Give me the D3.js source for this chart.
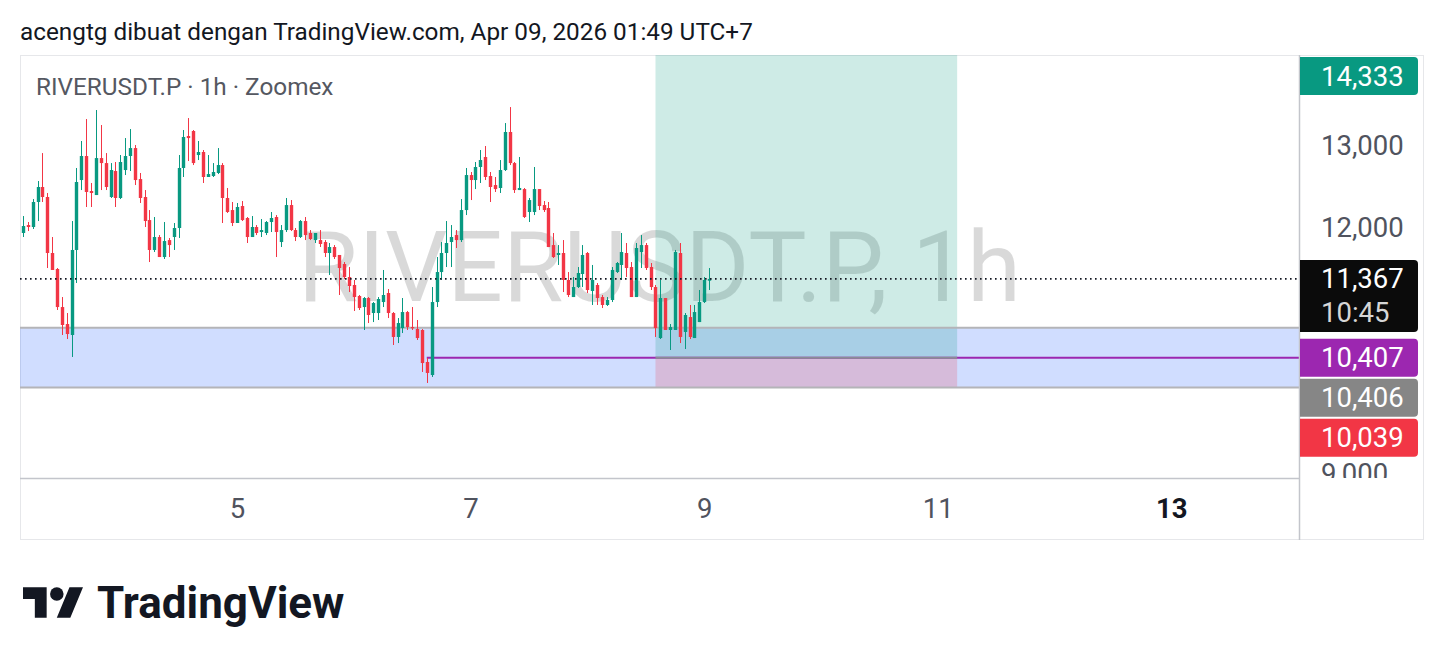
<!DOCTYPE html>
<html><head><meta charset="utf-8">
<script src="https://cdn.jsdelivr.net/npm/d3@7"></script>
<style>
body{margin:0;background:#fff;}
svg{display:block;font-family:Roboto,"Noto Sans",sans-serif;}
</style></head>
<body><svg id="c" width="1444" height="663"></svg>
<script>
// ---------------- data ----------------
const headerText = "acengtg dibuat dengan TradingView.com, Apr 09, 2026 01:49 UTC+7";
const legendText = "RIVERUSDT.P · 1h · Zoomex";
const watermarkText = "RIVERUSDT.P, 1h";
const firstBar = "2026-04-03T04:00:00Z"; // hourly bars (local UTC+7 shown as UTC)
const opens = [11927,12024,12000,12305,12488,12366,11683,11488,11024,10817,10683,11720,12573,12866,12439,12390,12841,12780,12366,12683,
12354,12695,12866,12963,12585,12366,12085,11720,11878,11634,11841,11878,11988,12720,13110,13171,12878,12915,12610,12622,
12659,12756,12354,12207,12049,12256,12110,11878,12000,11939,11927,12061,12122,11817,11963,12268,11963,11878,12073,11927,
11841,11841,11817,11683,11756,11659,11549,11390,11293,11159,11024,11134,10951,10951,11085,11195,10951,10659,10768,10963,
10780,10756,10744,10354,10195,11085,11451,11683,11817,11902,11841,12207,12634,12573,12732,12854,12622,12512,12476,12695,
13159,12780,12451,12463,12183,12183,12463,12268,12232,11780,11659,11683,11354,11146,11268,11427,11683,11220,11293,11146,
11049,11110,11451,11537,11683,11512,11146,11695,11780,11512,11268,10646,11134,10744,10744,11683,10720,10902,10646,10841,
11085,11345];
const highs = [12134,12061,12341,12561,12902,12415,11878,11500,11146,10951,12073,12720,13049,13317,12537,13427,13244,12902,12780,12793,
12878,13085,13195,13000,12659,12451,12207,12122,11902,12061,11866,12049,12878,13183,13329,13183,13049,12939,12878,12780,
12963,12780,12476,12305,12293,12317,12122,12134,12024,12098,12073,12183,12146,12024,12354,12329,11988,12085,12122,11963,
11927,11963,11841,11805,11780,11659,11573,11512,11354,11171,11146,11146,11085,11146,11476,11244,10963,10890,11134,10976,
11024,10866,10756,10402,11268,11634,11817,12073,12024,11963,12341,12720,12671,12793,12939,12988,12671,12610,12817,13268,
13463,12793,12854,12476,12354,12732,12463,12317,12305,11927,11780,11841,11451,11390,11512,11780,11695,11537,11317,11171,
11146,11512,11573,11927,11805,11573,11805,11902,11805,11561,11293,11354,11134,10817,11720,11805,10951,11049,11049,11232,
11390,11500];
const lows = [11878,11951,11976,12073,12305,11500,11476,10988,10683,10634,10415,11317,12451,12244,12244,12390,12451,12451,12354,12244,
12341,12634,12683,12512,12293,12000,11573,11695,11634,11610,11634,11720,11866,12610,12805,12756,12817,12537,12610,12610,
12646,12049,12171,12012,12049,12073,11805,11878,11902,11878,11902,11939,11634,11756,11939,11951,11829,11866,11841,11841,
11805,11756,11634,11415,11610,11171,11366,11207,10976,10988,10744,10829,10841,10866,11024,10890,10561,10585,10707,10744,
10744,10622,10232,10098,10171,11024,11354,11512,11512,11744,11817,12146,12329,12463,12537,12573,12305,12427,12415,12683,
12756,12415,12451,12110,12061,12146,12207,12183,11756,11622,11537,11207,11146,11146,11256,11268,11195,11049,11049,11012,
11037,11085,11439,11354,11390,11146,11146,11500,11476,11232,10659,10634,10744,10500,10744,10585,10512,10634,10646,10841,
11073,11232];
const closes = [12012,12000,12305,12488,12366,11683,11476,11024,10805,10695,11720,12549,12866,12427,12415,12841,12780,12488,12695,12354,
12793,12866,12963,12573,12354,12073,11720,11878,11634,11829,11780,11988,12720,13098,13085,12780,12915,12610,12646,12671,
12756,12354,12183,12049,12244,12085,11878,12000,11927,11963,12061,12110,11939,11963,12268,11963,11878,12073,11902,11854,
11927,11793,11683,11756,11634,11500,11390,11280,11146,11012,11134,10927,11073,11122,11171,10951,10659,10829,10963,10780,
10768,10646,10341,10220,11085,11451,11683,11805,11878,11841,12207,12634,12573,12732,12817,12610,12488,12463,12695,13159,
12780,12451,12476,12122,12329,12463,12256,12207,11756,11634,11683,11354,11171,11268,11439,11659,11232,11354,11134,11049,
11110,11476,11561,11695,11500,11146,11744,11780,11500,11268,10768,11134,10744,10780,11695,10659,10927,10659,10963,11085,
11354,11367];

// drawings
const zoneTop = 10770, zoneBottom = 10042;            // support rectangle
const entryPrice = 10407, targetPrice = 14333, stopPrice = 10039;
const positionStart = "2026-04-08T14:00:00Z", positionEnd = "2026-04-11T04:00:00Z";
const rayStart = "2026-04-06T15:00:00Z";
const lastPrice = 11367, countdown = "10:45";
const markerKeys = ["target","last","entry","zone","stop"];
const markerValues = [14333, 11367, 10407, 10406, 10039];
const priceTicks = [9000,10000,11000,12000,13000,14000];
const dayTicks = ["2026-04-05","2026-04-07","2026-04-09","2026-04-11","2026-04-13"];
const boldDay = "2026-04-13";
const viewStart = "2026-04-03T03:24:00Z", viewEnd = "2026-04-14T02:15:00Z";
const priceMin = 8939, priceMax = 14098;

// ---------------- styles ----------------
const UP = "#089981", DOWN = "#F23645";
const markerStyle = {
  target:{fill:"#089981", text:"#fff"},
  last:{fill:"#0b0b0b", text:"#fff"},
  entry:{fill:"#9c27b0", text:"#fff"},
  zone:{fill:"#868686", text:"#fff"},
  stop:{fill:"#f23645", text:"#fff"}
};
const AXIS_FS = 27.5;

// ---------------- layout ----------------
const svg = d3.select("#c");
const P = {l:20, r:1299, t:55, b:478, axisR:1424, axisB:540};

const x = d3.scaleUtc().domain([new Date(viewStart), new Date(viewEnd)]).range([P.l, P.r]);
const y = d3.scaleLinear().domain([priceMin, priceMax]).range([P.b, P.t]);

const t0 = new Date(firstBar).getTime();
const bars = opens.map((o,i)=>({t:new Date(t0 + i*3600e3), o, h:highs[i], l:lows[i], c:closes[i]}));

svg.append("rect").attr("width",1444).attr("height",663).attr("fill","#fff");

// header
svg.append("text").attr("x",20).attr("y",40).attr("font-size",24.3).attr("fill","#131722").text(headerText);

// frame
svg.append("rect").attr("x",P.l+0.5).attr("y",P.t+0.5).attr("width",P.axisR-P.l-1).attr("height",P.axisB-P.t-1)
  .attr("fill","none").attr("stroke","#e6e7ea");

const defs = svg.append("defs");
defs.append("clipPath").attr("id","plotclip").append("rect")
  .attr("x",P.l).attr("y",P.t).attr("width",P.r-P.l).attr("height",P.b-P.t);
defs.append("clipPath").attr("id","axisclip").append("rect")
  .attr("x",P.r).attr("y",P.t).attr("width",P.axisR-P.r).attr("height",P.b-P.t);

const plot = svg.append("g").attr("clip-path","url(#plotclip)");

// watermark
plot.append("text").attr("x",(P.l+P.r)/2).attr("y",(P.t+P.b)/2+1).attr("text-anchor","middle")
  .attr("dominant-baseline","central").attr("font-size",98).attr("fill","rgba(0,0,0,0.15)").text(watermarkText);

// support zone
plot.append("rect").attr("x",P.l).attr("width",P.r-P.l)
  .attr("y",y(zoneTop)).attr("height",y(zoneBottom)-y(zoneTop)).attr("fill","rgba(41,98,255,0.22)");

// long position
const px0 = x(new Date(positionStart)), px1 = x(new Date(positionEnd));
plot.append("rect").attr("x",px0).attr("width",px1-px0).attr("y",y(targetPrice)).attr("height",y(entryPrice)-y(targetPrice))
  .attr("fill","rgba(8,153,129,0.2)");
plot.append("rect").attr("x",px0).attr("width",px1-px0).attr("y",y(entryPrice)).attr("height",y(stopPrice)-y(entryPrice))
  .attr("fill","rgba(242,54,69,0.2)");

// zone borders
[zoneTop, zoneBottom].forEach(v=>{
  plot.append("line").attr("x1",P.l).attr("x2",P.r).attr("y1",y(v)).attr("y2",y(v))
    .attr("stroke","#b4b4b8").attr("stroke-width",2);
});

// purple ray
plot.append("line").attr("x1",x(new Date(rayStart))).attr("x2",P.r).attr("y1",y(entryPrice)).attr("y2",y(entryPrice))
  .attr("stroke","#9c27b0").attr("stroke-width",2);
// position entry line
plot.append("line").attr("x1",px0).attr("x2",px1).attr("y1",y(entryPrice)).attr("y2",y(entryPrice))
  .attr("stroke","#8a8d96").attr("stroke-width",2);

// candles
const bw = 3.4;
const cg = plot.append("g");
cg.selectAll("line.w").data(bars).join("line").attr("class","w")
  .attr("x1",d=>Math.round(x(d.t))+0.5).attr("x2",d=>Math.round(x(d.t))+0.5)
  .attr("y1",d=>y(d.h)).attr("y2",d=>y(d.l))
  .attr("stroke",d=>d.c>=d.o?UP:DOWN).attr("stroke-width",1);
cg.selectAll("rect.b").data(bars).join("rect").attr("class","b")
  .attr("x",d=>Math.round(x(d.t))+0.5-bw/2).attr("width",bw)
  .attr("y",d=>y(Math.max(d.o,d.c))).attr("height",d=>Math.max(1.2, Math.abs(y(d.o)-y(d.c))))
  .attr("fill",d=>d.c>=d.o?UP:DOWN);

// last price dotted line
plot.append("line").attr("x1",P.l).attr("x2",P.r).attr("y1",y(lastPrice)).attr("y2",y(lastPrice))
  .attr("stroke","#131722").attr("stroke-width",1.6).attr("stroke-dasharray","1.6,3.4");

// separators
svg.append("line").attr("x1",P.l).attr("x2",P.r).attr("y1",P.b+0.5).attr("y2",P.b+0.5).attr("stroke","#c3c5cb").attr("stroke-width",1.5);
svg.append("line").attr("x1",P.r+0.5).attr("x2",P.r+0.5).attr("y1",P.t).attr("y2",P.axisB).attr("stroke","#c3c5cb").attr("stroke-width",1.5);

// time axis
const tAxis = d3.axisBottom(x).tickValues(dayTicks.map(d=>new Date(d+"T00:00:00Z")))
  .tickFormat(d3.utcFormat("%-d")).tickSize(0).tickPadding(0);
const tg = svg.append("g").attr("transform",`translate(0,${P.b})`).call(tAxis);
tg.select(".domain").remove();
tg.selectAll("text").attr("font-size",AXIS_FS).attr("font-family","Roboto").attr("fill","#50535e")
  .attr("dy",null).attr("y",30).attr("dominant-baseline","central")
  .filter(d=>d.getTime()===new Date(boldDay+"T00:00:00Z").getTime())
  .attr("font-weight","bold").attr("fill","#131722");

// price axis labels (markers) with collision resolution
const boxH = 38, gap = 2;
const markers = markerKeys.map((k,i)=>({k, v:markerValues[i]}))
  .sort((a,b)=>b.v-a.v);
let prevBottom = P.t + 2 - gap;
markers.forEach(m=>{
  const h = m.k==="last" ? 72 : boxH;
  let top = y(m.v) - boxH/2;
  top = Math.max(top, prevBottom + gap);
  m.top = top; m.h = h; prevBottom = top + h;
});

const ag = svg.append("g").attr("clip-path","url(#axisclip)");
const yAxis = d3.axisRight(y).tickValues(priceTicks).tickSize(0).tickPadding(0).tickFormat(d3.format(","));
const yg = ag.append("g").attr("transform",`translate(${P.r},0)`).call(yAxis);
yg.select(".domain").remove();
yg.selectAll("text").attr("x",22).attr("dy",null).attr("dominant-baseline","central")
  .attr("font-size",AXIS_FS).attr("font-family","Roboto").attr("fill","#50535e")
  .attr("display",d=>markers.some(m=>y(d)>m.top-13 && y(d)<m.top+m.h+13)?"none":null);

markers.forEach(m=>{
  const st = markerStyle[m.k];
  const g = svg.append("g");
  g.append("path").attr("d",()=>{
    const x0=P.r+1, x1=1418, r=4, t=m.top, b=m.top+m.h;
    return `M${x0},${t}H${x1-r}Q${x1},${t} ${x1},${t+r}V${b-r}Q${x1},${b} ${x1-r},${b}H${x0}Z`;
  }).attr("fill",st.fill);
  g.append("text").attr("x",P.r+22).attr("y",m.top+boxH/2).attr("dominant-baseline","central")
    .attr("font-size",AXIS_FS).attr("fill",st.text).text(d3.format(",")(m.v));
  if(m.k==="last"){
    g.append("text").attr("x",P.r+22).attr("y",m.top+boxH/2+34).attr("dominant-baseline","central")
      .attr("font-size",AXIS_FS).attr("fill","#d6d6d6").text(countdown);
  }
});

// legend
svg.append("text").attr("x",36).attr("y",95).attr("font-size",24.3).attr("fill","#555861").text(legendText);

// TradingView logo
const logo = svg.append("g").attr("transform","translate(23,580.5) scale(1.69)").attr("fill","#131722");
logo.append("path").attr("d","M14 22H7V11H0V4h14v18zM28 22h-8l7.5-18h8L28 22z");
logo.append("circle").attr("cx",20).attr("cy",8).attr("r",4);
svg.append("text").attr("x",97).attr("y",618).attr("font-size",44).attr("font-weight","bold")
  .attr("fill","#131722").text("TradingView");
</script>
</body></html>
